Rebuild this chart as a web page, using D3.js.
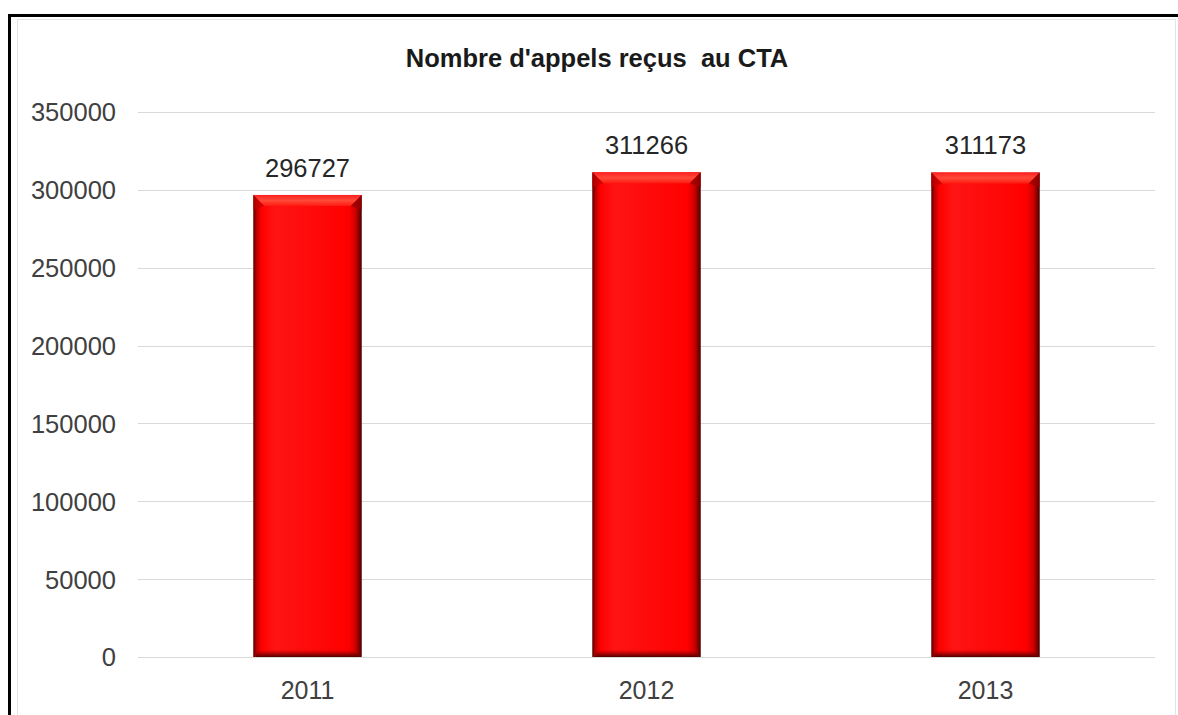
<!DOCTYPE html>
<html>
<head>
<meta charset="utf-8">
<script src="https://cdn.jsdelivr.net/npm/d3@7/dist/d3.min.js"></script>
<style>
  html, body { margin: 0; padding: 0; background: #fff; }
  svg { display: block; }
</style>
</head>
<body>
<svg id="chart" width="1178" height="715"></svg>
<script>
// Annual call counts received at the CTA
const years = ["2011", "2012", "2013"];
const calls = [296727, 311266, 311173];
const yTicks = [0, 50000, 100000, 150000, 200000, 250000, 300000, 350000];
const title = "Nombre d'appels reçus\u00a0 au CTA";

const W = 1178, H = 715;
const margin = { left: 138, right: 23, top: 112, bottom: 58 };
const FONT = "'Liberation Sans', Arial, sans-serif";
const svg = d3.select("#chart");

const defs = svg.append("defs");
// side shading across the bar width
const side = defs.append("linearGradient").attr("id", "barSide")
  .attr("x1", 0).attr("x2", 1).attr("y1", 0).attr("y2", 0);
[[0, "#5a0000"], [0.03, "#b80000"], [0.075, "#ff0000"], [0.2, "#ff1414"],
 [0.88, "#ff0000"], [0.94, "#d00000"], [0.98, "#7a0000"], [1, "#4a0000"]]
  .forEach(([o, c]) => side.append("stop").attr("offset", o).attr("stop-color", c));
// top bevel highlight
const topG = defs.append("linearGradient").attr("id", "barTop")
  .attr("x1", 0).attr("x2", 0).attr("y1", 0).attr("y2", 1);
[[0, "#ff2020"], [0.5, "#ff4a3a"], [1, "#ff1a10"]]
  .forEach(([o, c]) => topG.append("stop").attr("offset", o).attr("stop-color", c));
// bottom shadow
const botG = defs.append("linearGradient").attr("id", "barBot")
  .attr("x1", 0).attr("x2", 0).attr("y1", 0).attr("y2", 1);
[[0, "#e00000", 0], [0.5, "#900000", 0.6], [1, "#4a0000", 1]]
  .forEach(([o, c, a]) => botG.append("stop").attr("offset", o).attr("stop-color", c).attr("stop-opacity", a));

// frame: light inner border plus heavy black top/left edge
svg.append("rect").attr("x", 17.5).attr("y", 19.5).attr("width", 1158).attr("height", 720)
  .attr("fill", "#fff").attr("stroke", "#e4e4e4").attr("stroke-width", 1);
svg.append("path").attr("d", `M9.5,${H} L9.5,15.5 L${W},15.5`)
  .attr("fill", "none").attr("stroke", "#000").attr("stroke-width", 3);

const x = d3.scaleBand().domain(years)
  .range([margin.left, W - margin.right])
  .paddingInner(0.68).paddingOuter(0.34);
const y = d3.scaleLinear().domain([0, 350000])
  .range([H - margin.bottom, margin.top]);

// gridlines
svg.append("g").selectAll("line").data(yTicks).join("line")
  .attr("x1", margin.left).attr("x2", W - margin.right)
  .attr("y1", d => Math.round(y(d)) + 0.5).attr("y2", d => Math.round(y(d)) + 0.5)
  .attr("stroke", "#d9d9d9").attr("stroke-width", 1.2);

// y axis labels
const yAxis = svg.append("g").attr("transform", `translate(${margin.left - 22},0)`)
  .call(d3.axisLeft(y).tickValues(yTicks).tickSize(0).tickPadding(0).tickFormat(d3.format("d")));
yAxis.select(".domain").remove();
yAxis.selectAll("text")
  .attr("font-family", FONT)
  .attr("font-size", 25.5).attr("fill", "#404040").attr("dy", "0.35em");

// x axis labels
const xAxis = svg.append("g").attr("transform", `translate(0,${H - margin.bottom})`)
  .call(d3.axisBottom(x).tickSize(0).tickPadding(0));
xAxis.select(".domain").remove();
xAxis.selectAll("text")
  .attr("font-family", FONT)
  .attr("font-size", 25).attr("fill", "#404040")
  .attr("dy", null).attr("y", 42);

// bars with bevelled look
const bars = svg.append("g").selectAll("g").data(years.map((k, i) => ({ k, v: calls[i] })))
  .join("g");
bars.append("rect")
  .attr("x", d => x(d.k)).attr("y", d => y(d.v))
  .attr("width", x.bandwidth()).attr("height", d => y(0) - y(d.v))
  .attr("fill", "url(#barSide)");
bars.append("rect")
  .attr("x", d => x(d.k) + 3).attr("y", d => y(0) - 8)
  .attr("width", x.bandwidth() - 6).attr("height", 8)
  .attr("fill", "url(#barBot)");
bars.append("path")
  .attr("d", d => {
    const x0 = x(d.k), x1 = x0 + x.bandwidth(), t = y(d.v), b = 11;
    return `M${x0},${t} L${x1},${t} L${x1 - b},${t + b} L${x0 + b},${t + b} Z`;
  })
  .attr("fill", "url(#barTop)");
bars.append("path")
  .attr("d", d => {
    const x1 = x(d.k) + x.bandwidth(), t = y(d.v), b = 11;
    return `M${x1},${t} L${x1},${t + b + 4} L${x1 - b},${t + b} Z`;
  })
  .attr("fill", "#9a0000").attr("opacity", 0.8);
bars.append("path")
  .attr("d", d => {
    const x0 = x(d.k), t = y(d.v), b = 11;
    return `M${x0},${t} L${x0},${t + b + 4} L${x0 + b},${t + b} Z`;
  })
  .attr("fill", "#c00000").attr("opacity", 0.7);

// value labels
bars.append("text")
  .attr("x", d => x(d.k) + x.bandwidth() / 2)
  .attr("y", d => y(d.v) - 18)
  .attr("text-anchor", "middle")
  .attr("font-family", FONT)
  .attr("font-size", 25.5).attr("fill", "#262626")
  .text(d => d.v);

// title
svg.append("text")
  .attr("x", 597).attr("y", 67).attr("text-anchor", "middle")
  .attr("font-family", FONT)
  .attr("font-weight", "bold").attr("font-size", 25.5).attr("fill", "#1a1a1a")
  .text(title);
</script>
</body>
</html>
